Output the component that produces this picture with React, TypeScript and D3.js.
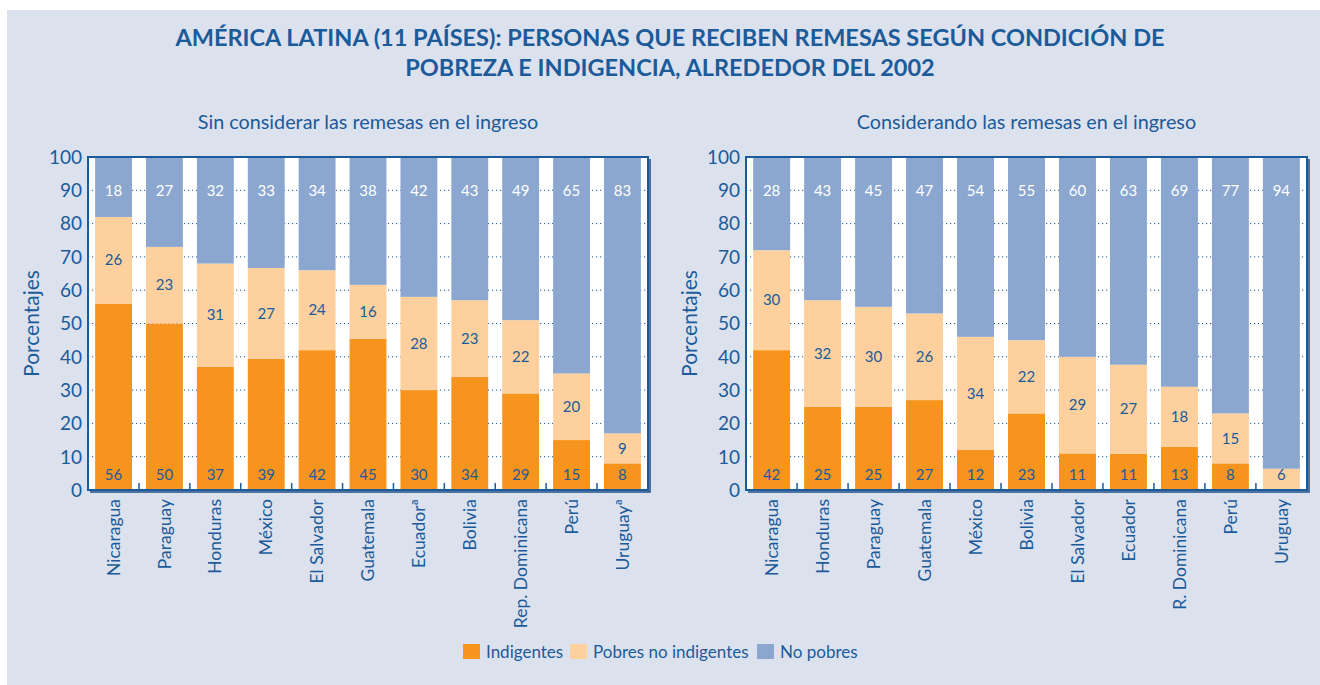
import { useEffect, useRef } from 'react';
import * as d3 from 'd3';

// Sin considerar las remesas
const leftCountries = ['Nicaragua', 'Paraguay', 'Honduras', 'México', 'El Salvador', 'Guatemala', 'Ecuadorª', 'Bolivia', 'Rep. Dominicana', 'Perú', 'Uruguayª'];
const leftIndigentes = [56, 50, 37, 39, 42, 45, 30, 34, 29, 15, 8];
const leftPobres = [26, 23, 31, 27, 24, 16, 28, 23, 22, 20, 9];
const leftNoPobres = [18, 27, 32, 33, 34, 38, 42, 43, 49, 65, 83];

// Considerando las remesas
const rightCountries = ['Nicaragua', 'Honduras', 'Paraguay', 'Guatemala', 'México', 'Bolivia', 'El Salvador', 'Ecuador', 'R. Dominicana', 'Perú', 'Uruguay'];
const rightIndigentes = [42, 25, 25, 27, 12, 23, 11, 11, 13, 8, 0.4];
const rightPobres = [30, 32, 30, 26, 34, 22, 29, 27, 18, 15, 6];
const rightNoPobres = [28, 43, 45, 47, 54, 55, 60, 63, 69, 77, 94];

const yTicks = [0, 10, 20, 30, 40, 50, 60, 70, 80, 90, 100];
const seriesKeys = ['ind', 'pob', 'nop'];
const seriesNames = ['Indigentes', 'Pobres no indigentes', 'No pobres'];
const colors = ['#f7941e', '#fdd09e', '#8ba7cf'];
const textColor = '#1b5b9a';
const font = 'Lato, "Open Sans", sans-serif';

function drawPanel(g, countries, ind, pob, nop, x0, x1, subtitle) {
  const top = 157;
  const bottom = 490;
  const rows = countries.map((c, i) => ({ country: c, ind: ind[i], pob: pob[i], nop: nop[i] }));

  const x = d3.scaleBand().domain(countries).range([x0, x1]).paddingInner(0.275).paddingOuter(0.14);
  const y = d3.scaleLinear().domain([0, 1]).range([bottom, top]);
  const yPct = d3.scaleLinear().domain([0, 100]).range([bottom, top]);

  const stack = d3.stack().keys(seriesKeys).offset(d3.stackOffsetExpand);
  const stacked = stack(rows);

  g.append('text')
    .attr('x', (x0 + x1) / 2)
    .attr('y', 129)
    .attr('text-anchor', 'middle')
    .style('font-size', '19.8px')
    .attr('fill', textColor)
    .text(subtitle);

  // plot background
  g.append('rect')
    .attr('x', x0).attr('y', top)
    .attr('width', x1 - x0).attr('height', bottom - top)
    .attr('fill', '#fff');

  // dotted grid
  g.selectAll('.grid')
    .data(yTicks.filter(t => t > 0 && t < 100))
    .join('line')
    .attr('x1', x0).attr('x2', x1)
    .attr('y1', d => yPct(d)).attr('y2', d => yPct(d))
    .attr('stroke', textColor)
    .attr('stroke-width', 1)
    .attr('stroke-dasharray', '1.2,2.8');

  stacked.forEach((s, si) => {
    g.selectAll(`.bar-${si}`)
      .data(s)
      .join('rect')
      .attr('x', d => x(d.data.country))
      .attr('width', x.bandwidth())
      .attr('y', d => y(d[1]))
      .attr('height', d => y(d[0]) - y(d[1]))
      .attr('fill', colors[si]);
  });

  // value labels
  const labelY = (si, d) => {
    if (si === 0) return yPct(4.5);
    if (si === 2) return yPct(90);
    const c = (y(d[0]) + y(d[1])) / 2;
    return Math.min(c, yPct(4.5));
  };
  stacked.forEach((s, si) => {
    g.selectAll(`.lbl-${si}`)
      .data(s.filter(d => d.data[seriesKeys[si]] >= 1))
      .join('text')
      .attr('x', d => x(d.data.country) + x.bandwidth() / 2)
      .attr('y', d => labelY(si, d))
      .attr('dy', '0.35em')
      .attr('text-anchor', 'middle')
      .style('font-size', '15px')
      .attr('fill', si === 2 ? '#fff' : textColor)
      .text(d => Math.round(d.data[seriesKeys[si]]));
  });

  // frame
  g.append('rect')
    .attr('x', x0).attr('y', top)
    .attr('width', x1 - x0).attr('height', bottom - top)
    .attr('fill', 'none')
    .attr('stroke', textColor)
    .attr('stroke-width', 2);
  g.append('path')
    .attr('d', `M${x1 + 2},${top + 2}V${bottom + 2}H${x0 + 2}`)
    .attr('fill', 'none')
    .attr('stroke', '#1d4f86')
    .attr('stroke-width', 1.5);

  // bottom ticks between bars
  const step = x.step();
  g.selectAll('.xtick')
    .data(countries.slice(1))
    .join('line')
    .attr('x1', d => x(d) - (step - x.bandwidth()) / 2)
    .attr('x2', d => x(d) - (step - x.bandwidth()) / 2)
    .attr('y1', bottom).attr('y2', bottom - 7)
    .attr('stroke', textColor)
    .attr('stroke-width', 1.5);

  // y axis labels
  g.selectAll('.ytick')
    .data(yTicks)
    .join('text')
    .attr('x', x0 - 6)
    .attr('y', d => yPct(d))
    .attr('dy', '0.36em')
    .attr('text-anchor', 'end')
    .style('font-size', '19px')
    .attr('fill', textColor)
    .text(d => d);

  g.append('text')
    .attr('transform', `translate(${x0 - 56},${(top + bottom) / 2}) rotate(-90)`)
    .attr('text-anchor', 'middle')
    .attr('dy', '0.35em')
    .style('font-size', '21px')
    .attr('fill', textColor)
    .text('Porcentajes');

  // x labels
  g.selectAll('.xlab')
    .data(countries)
    .join('text')
    .attr('transform', d => `translate(${x(d) + x.bandwidth() / 2},${bottom + 9}) rotate(-90)`)
    .attr('text-anchor', 'end')
    .attr('dy', '0.35em')
    .style('font-size', '17.5px')
    .attr('fill', textColor)
    .text(d => d);
}

export default function App() {
  const svgRef = useRef<SVGSVGElement>(null);

  useEffect(() => {
    document.body.style.margin = '0';
    const svg = d3.select(svgRef.current);
    svg.selectAll('*').remove();

    const root = svg.append('g').style('font-family', font);

    root.append('rect')
      .attr('x', 7).attr('y', 10)
      .attr('width', 1313).attr('height', 675)
      .attr('fill', '#dce1ee');

    const title = root.append('text')
      .attr('text-anchor', 'middle')
      .style('font-size', '23.5px')
      .style('font-weight', 'bold')
      .attr('fill', textColor);
    title.append('tspan').attr('x', 670).attr('y', 46)
      .text('AMÉRICA LATINA (11 PAÍSES): PERSONAS QUE RECIBEN REMESAS SEGÚN CONDICIÓN DE');
    title.append('tspan').attr('x', 670).attr('y', 76)
      .text('POBREZA E INDIGENCIA, ALREDEDOR DEL 2002');

    drawPanel(root.append('g'), leftCountries, leftIndigentes, leftPobres, leftNoPobres, 88, 648,
      'Sin considerar las remesas en el ingreso');
    drawPanel(root.append('g'), rightCountries, rightIndigentes, rightPobres, rightNoPobres, 746, 1307,
      'Considerando las remesas en el ingreso');

    // legend
    const legend = root.append('g');
    const lx = [463, 570, 757];
    seriesNames.forEach((name, i) => {
      legend.append('rect')
        .attr('x', lx[i]).attr('y', 644)
        .attr('width', 17).attr('height', 15)
        .attr('fill', colors[i]);
      legend.append('text')
        .attr('x', lx[i] + 23).attr('y', 652)
        .attr('dy', '0.35em')
        .style('font-size', '17px')
        .attr('fill', textColor)
        .text(name);
    });
  }, []);

  return <svg ref={svgRef} width={1320} height={685} style={{ display: 'block' }} />;
}
